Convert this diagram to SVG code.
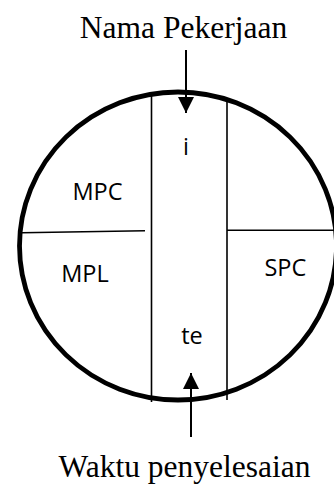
<svg xmlns="http://www.w3.org/2000/svg" width="334" height="488" viewBox="0 0 334 488">
<style>
.title{font-family:"Liberation Serif","Times New Roman",serif;font-size:31.5px;fill:#000;text-anchor:middle}
.lbl{font-family:"Open Sans","Noto Sans",sans-serif;font-size:23.5px;fill:#000;text-anchor:middle}
.thin{stroke:#000;stroke-width:1.6;fill:none}
.conn{stroke:#000;stroke-width:2;fill:none}
</style>
<defs>
<marker id="ah" markerWidth="16" markerHeight="16" viewBox="0 0 16 16" refX="16" refY="8" orient="auto" markerUnits="userSpaceOnUse">
<path d="M0,0 L16,8 L0,16 Z" fill="#000"/>
</marker>
</defs>
<rect width="334" height="488" fill="#fff"/>
<g id="circle">
<ellipse cx="178" cy="246" rx="158.5" ry="154" fill="none" stroke="#000" stroke-width="4.8"/>
<line class="thin" x1="151.5" y1="96" x2="151.5" y2="402"/>
<line class="thin" x1="227" y1="99" x2="227" y2="400"/>
<line class="thin" x1="22" y1="232.7" x2="145" y2="230.7"/>
<line class="thin" x1="227" y1="230.3" x2="334" y2="230.3"/>
</g>
<g id="node-mpc"><text class="lbl" x="97.5" y="200">MPC</text></g>
<g id="node-mpl"><text class="lbl" x="85" y="281.7">MPL</text></g>
<g id="node-spc"><text class="lbl" x="285.3" y="276">SPC</text></g>
<g id="node-i"><text class="lbl" x="186" y="155">i</text></g>
<g id="node-te"><text class="lbl" x="192" y="344">te</text></g>
<g id="node-nama"><text class="title" x="183.5" y="38">Nama Pekerjaan</text></g>
<g id="node-waktu"><text class="title" x="184.5" y="476.5">Waktu penyelesaian</text></g>
<g id="connectors">
<line class="conn" x1="186" y1="50" x2="186" y2="113" marker-end="url(#ah)"/>
<line class="conn" x1="191" y1="437" x2="191" y2="373" marker-end="url(#ah)"/>
</g>
</svg>
